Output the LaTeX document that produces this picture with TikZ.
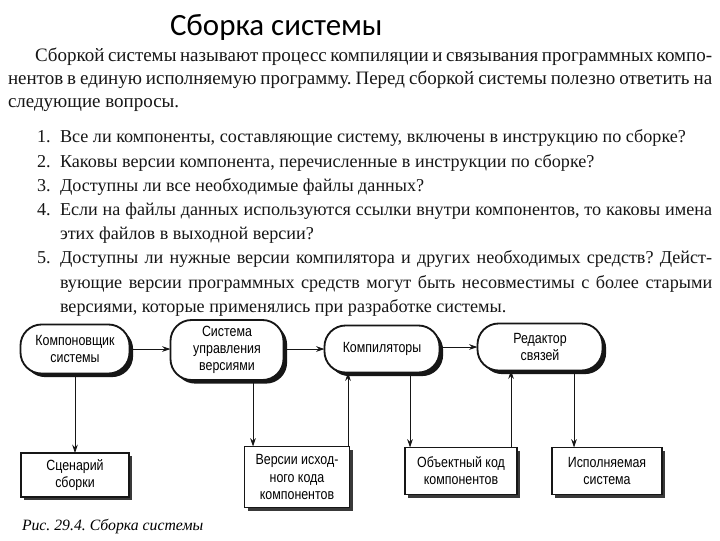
\documentclass[tikz,border=0pt]{standalone}
\usepackage{fontspec}
\setmainfont{Liberation Serif}
\newfontfamily\headfont{Carlito}
\newfontfamily\boxfont[FakeStretch=0.84]{Liberation Sans}
\usetikzlibrary{arrows.meta,shadows}
\definecolor{inkblack}{RGB}{22,22,22}
\frenchspacing
\newcommand\qitem[2]{\hangindent=0.575cm\hangafter=1\noindent\makebox[0.575cm][l]{#1}#2\par}

\begin{document}
\begin{tikzpicture}[x=0.025cm,y=-0.025cm,
    every node/.style={inner sep=0pt,outer sep=0pt},
    bodytext/.style={anchor=north west,align=justify,text=inkblack},
    pill/.style={draw=inkblack,line width=1.3pt,fill=white,rounded corners=15pt,
       drop shadow={shadow xshift=0.9mm,shadow yshift=-0.9mm,fill=inkblack,opacity=1},
       align=center,font=\boxfont\fontsize{10.5}{12.2}\selectfont},
    store/.style={draw=inkblack,line width=1pt,fill=white,
       drop shadow={shadow xshift=0.8mm,shadow yshift=-0.8mm,fill=inkblack!85,opacity=1},
       align=center,font=\boxfont\fontsize{10.5}{12.2}\selectfont},
    flow/.style={draw=inkblack,line width=0.6pt,-{Stealth[length=6pt,width=4pt]}}]
  \useasboundingbox[fill=white] (0,0) rectangle (720,540);

  \node[anchor=west,font=\headfont\fontsize{22}{26}\selectfont] (title) at (170,27) {Сборка системы};

  \node[bodytext,text width=17.6cm,font=\fontsize{13.5}{16.4}\selectfont] (intro) at (8,48)
    {\hyphenpenalty=10000\hspace*{0.675cm}Сборкой системы называют процесс компиляции и связывания программных компо-\linebreak
     нентов в единую исполняемую программу. Перед сборкой системы полезно ответить на\linebreak
     следующие вопросы.};

  \node[bodytext,text width=16.875cm,font=\fontsize{12.9}{17.2}\selectfont] (questions) at (37,130)
    {\hyphenpenalty=10000%
     \qitem{1.}{Все ли компоненты, составляющие систему, включены в инструкцию по сборке?}%
     \qitem{2.}{Каковы версии компонента, перечисленные в инструкции по сборке?}%
     \qitem{3.}{Доступны ли все необходимые файлы данных?}%
     \qitem{4.}{Если на файлы данных используются ссылки внутри компонентов, то каковы имена\linebreak
       этих файлов в выходной версии?}%
     \qitem{5.}{Доступны ли нужные версии компилятора и других необходимых средств? Дейст-\linebreak
       вующие версии программных средств могут быть несовместимы с более старыми\linebreak
       версиями, которые применялись при разработке системы.}};

  \node[pill,minimum width=2.725cm,minimum height=1.225cm] (builder) at (75,349) {Компоновщик\\системы};
  \node[pill,minimum width=2.825cm,minimum height=1.5cm] (vcs) at (227,350) {Система\\управления\\версиями};
  \node[pill,minimum width=2.875cm,minimum height=1.175cm] (compilers) at (382,349) {Компиляторы};
  \node[pill,minimum width=3.125cm,minimum height=1.175cm] (linker) at (540,347) {Редактор\\связей};

  \node[store,minimum width=2.7cm,minimum height=1.1cm] (script) at (75,475) {Сценарий\\сборки};
  \node[store,minimum width=2.625cm,minimum height=1.525cm] (sources) at (297,477) {Версии исход-\\ного кода\\компонентов};
  \node[store,minimum width=2.8cm,minimum height=1.175cm] (objects) at (461,471) {Объектный код\\компонентов};
  \node[store,minimum width=2.75cm,minimum height=1.175cm] (program) at (607,471) {Исполняемая\\система};

  \draw[flow] (builder.east) -- (builder.east -| vcs.west);
  \draw[flow] (vcs.east |- compilers.west) -- (compilers.west);
  \draw[flow] (compilers.east |- linker.west) -- (linker.west);

  \draw[flow] (builder.south) -- (builder.south |- script.north);
  \draw[flow] (253,0 |- vcs.south) -- (253,0 |- sources.north);
  \draw[flow] (348,0 |- sources.north) -- (348,0 |- compilers.south);
  \draw[flow] (410,0 |- compilers.south) -- (410,0 |- objects.north);
  \draw[flow] (511,0 |- objects.north) -- (511,0 |- linker.south);
  \draw[flow] (574,0 |- linker.south) -- (574,0 |- program.north);

  \node[anchor=west,font=\itshape\fontsize{11.2}{13}\selectfont] (caption) at (22,527) {Рис. 29.4. Сборка системы};
\end{tikzpicture}
\end{document}
